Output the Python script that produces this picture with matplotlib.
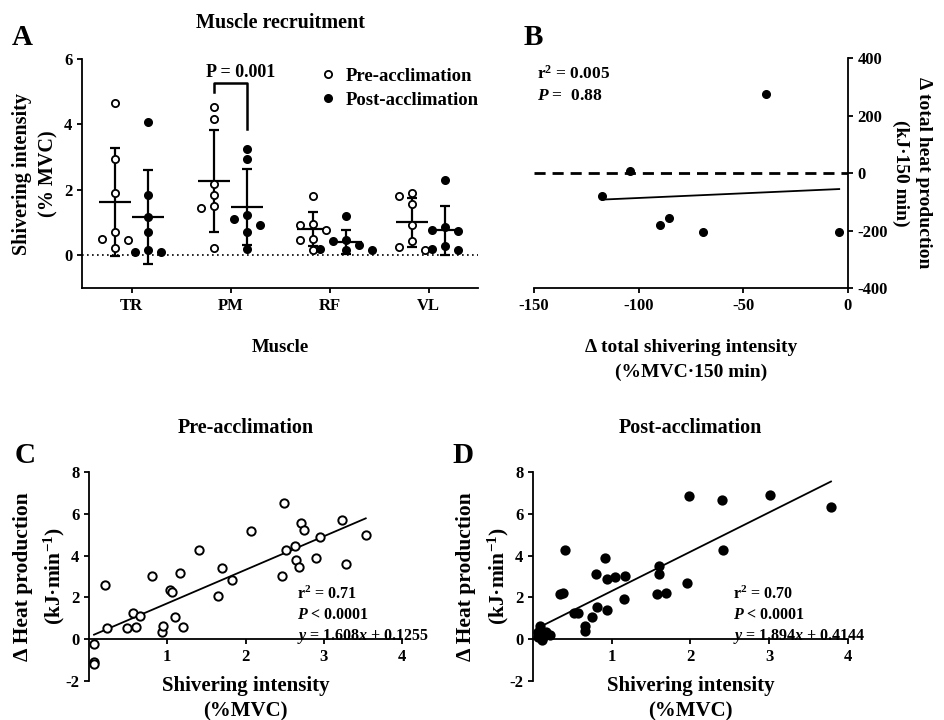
import numpy as np
import matplotlib
matplotlib.use('Agg')
import matplotlib.pyplot as plt
from matplotlib.lines import Line2D

plt.rcParams['font.family'] = ['Liberation Serif', 'DejaVu Serif']
plt.rcParams['font.weight'] = 'bold'
plt.rcParams['axes.labelweight'] = 'bold'
plt.rcParams['axes.titleweight'] = 'bold'
plt.rcParams['axes.unicode_minus'] = False
plt.rcParams['mathtext.fontset'] = 'custom'
plt.rcParams['mathtext.rm'] = 'Liberation Serif:bold'
plt.rcParams['mathtext.it'] = 'Liberation Serif:italic:bold'
plt.rcParams['mathtext.bf'] = 'Liberation Serif:bold'
plt.rcParams['axes.linewidth'] = 1.3
plt.rcParams['xtick.major.width'] = 1.3
plt.rcParams['ytick.major.width'] = 1.3
plt.rcParams['xtick.labelsize'] = 12
plt.rcParams['ytick.labelsize'] = 12

# ---- data: panel A (shivering intensity, % MVC) ----
muscles = ['TR', 'PM', 'RF', 'VL']
pre_vals = [
    [4.67, 2.94, 1.90, 0.70, 0.50, 0.46, 0.21],
    [4.53, 4.18, 2.19, 1.84, 1.50, 1.46, 0.21],
    [1.82, 0.97, 0.92, 0.78, 0.50, 0.48, 0.15],
    [1.90, 1.82, 1.58, 0.94, 0.43, 0.25, 0.15],
]
post_vals = [
    [4.07, 1.84, 1.16, 0.70, 0.17, 0.09, 0.09],
    [3.26, 2.94, 1.22, 1.11, 0.94, 0.70, 0.19],
    [1.19, 0.48, 0.44, 0.31, 0.19, 0.15, 0.15],
    [2.31, 0.86, 0.78, 0.75, 0.27, 0.19, 0.15],
]

# ---- panel B ----
b_shiv = [-39.3, -104.0, -117.5, -89.8, -85.5, -69.4, -4.2]
b_heat = [276, 8, -81, -181, -158, -206, -204]

# ---- panel C (pre-acclimation) ----
c_shiv = [0.064, 0.064, 0.064, 0.20, 0.234, 0.486, 0.567, 0.605, 0.647, 0.80,
          0.937, 0.95, 1.035, 1.06, 1.095, 1.159, 1.206, 1.40, 1.649, 1.70,
          1.827, 2.07, 2.466, 2.488, 2.518, 2.633, 2.645, 2.688, 2.709, 2.748,
          2.897, 2.956, 3.233, 3.280, 3.536]
c_heat = [-0.24, -1.08, -1.21, 2.61, 0.53, 0.54, 1.26, 0.57, 1.12, 3.01,
          0.32, 0.64, 2.37, 2.25, 1.08, 3.17, 0.59, 4.25, 2.07, 3.41,
          2.82, 5.16, 3.03, 6.53, 4.29, 4.48, 3.79, 3.46, 5.58, 5.20,
          3.90, 4.89, 5.71, 3.59, 5.00]

# ---- panel D (post-acclimation) ----
d_shiv = [0.085, 0.063, 0.127, 0.114, 0.17, 0.21, 0.10, 0.14, 0.06, 0.347,
          0.381, 0.41, 0.516, 0.571, 0.656, 0.656, 0.749, 0.796, 0.817, 0.91,
          0.94, 0.94, 1.045, 1.156, 1.173, 1.575, 1.596, 1.604, 1.689, 1.956,
          1.985, 2.40, 2.408, 3.01, 3.784]
d_heat = [0.65, 0.35, 0.11, -0.05, 0.32, 0.18, 0.25, 0.20, 0.12, 2.14,
          2.23, 4.26, 1.26, 1.26, 0.62, 0.40, 1.05, 3.14, 1.55, 3.89,
          2.87, 1.39, 2.98, 1.94, 3.04, 2.14, 3.14, 3.51, 2.23, 2.71,
          6.87, 6.65, 4.29, 6.88, 6.31]


def swarm(vals, thr=0.3):
    # simple column layout so close values sit side by side
    placed = []
    lanes = []
    for v in vals:
        for lane in (0, -1, 1, -2, 2):
            if all(abs(v - pv) >= thr for pv, pl in placed if pl == lane):
                break
        placed.append((v, lane))
        lanes.append(lane)
    return np.array(lanes)


fig = plt.figure(figsize=(9.44, 7.2), dpi=100)

# =================== A ===================
axA = fig.add_axes([0.0869, 0.6, 0.4195, 0.318])
shift = 0.165
lane_w = 0.13
for i, m in enumerate(muscles):
    for vals, off, face in ((pre_vals[i], -shift, 'white'), (post_vals[i], shift, 'black')):
        v = np.array(vals)
        xc = i + off
        mu = v.mean()
        sd = v.std(ddof=1)
        axA.errorbar(xc, mu, yerr=sd, fmt='none', ecolor='black', elinewidth=1.6,
                     capsize=3.5, capthick=1.6, zorder=2)
        axA.hlines(mu, xc - 0.16, xc + 0.16, color='black', lw=1.6, zorder=2)
        xs = xc + swarm(v) * lane_w
        axA.plot(xs, v, 'o', ms=5.2, mfc=face, mec='black', mew=1.3, zorder=3,
                 clip_on=False)

axA.axhline(0, color='black', lw=1.2, ls=(0, (1, 2)), zorder=1)
axA.set_xlim(-0.5, 3.5)
axA.set_ylim(-1, 6)
axA.set_xticks(range(4))
axA.set_xticklabels(muscles)
axA.set_yticks([0, 2, 4, 6])
axA.spines['top'].set_visible(False)
axA.spines['right'].set_visible(False)
axA.set_ylabel('Shivering intensity\n(% MVC)', fontsize=14.5, labelpad=4, linespacing=1.45)
axA.set_xlabel('Muscle', fontsize=13.5, labelpad=18)
axA.set_title('Muscle recruitment', fontsize=14.5, pad=22)

# significance bracket PM pre vs post
xl, xr = 1 - shift, 1 + shift
axA.plot([xl, xl, xr, xr], [5.0, 5.28, 5.28, 3.86], color='black', lw=1.8)
axA.text(1.1, 5.6, 'P = 0.001', ha='center', va='center', fontsize=13)

handles = [Line2D([], [], ls='none', marker='o', ms=5.2, mfc='white', mec='black', mew=1.3),
           Line2D([], [], ls='none', marker='o', ms=5.2, mfc='black', mec='black', mew=1.3)]
axA.legend(handles, ['Pre-acclimation', 'Post-acclimation'], loc='upper left',
           bbox_to_anchor=(0.55, 1.035), frameon=False, fontsize=13.5,
           handletextpad=0.35, labelspacing=0.35, handlelength=1.2)
fig.text(0.024, 0.948, 'A', fontsize=21, ha='center', va='center')

# =================== B ===================
axB = fig.add_axes([0.5657, 0.6, 0.3326, 0.3194])
axB.plot(b_shiv, b_heat, 'o', ms=5.5, color='black', clip_on=False, zorder=3)
slope, icpt = np.polyfit(b_shiv, b_heat, 1)
xf = np.array([min(b_shiv), max(b_shiv)])
axB.plot(xf, slope * xf + icpt, color='black', lw=1.3)
axB.axhline(0, color='black', lw=2, ls=(0, (4, 2.5)))
axB.set_xlim(-150, 0)
axB.set_ylim(-400, 400)
axB.set_xticks([-150, -100, -50, 0])
axB.set_yticks([-400, -200, 0, 200, 400])
axB.spines['top'].set_visible(False)
axB.spines['left'].set_visible(False)
axB.yaxis.tick_right()
axB.yaxis.set_label_position('right')
axB.set_ylabel('\u0394 total heat production\n(kJ\u00b7150 min)', fontsize=14,
               rotation=270, va='bottom', labelpad=3, linespacing=1.4)
axB.set_xlabel('\u0394 total shivering intensity\n(%MVC\u00b7150 min)', fontsize=14,
               labelpad=18, linespacing=1.6)
axB.text(0.01, 0.93, 'r$^2$ = 0.005', transform=axB.transAxes, fontsize=12.5, va='center')
axB.text(0.01, 0.835, '$P$ =  0.88', transform=axB.transAxes, fontsize=12.5, va='center')
fig.text(0.565, 0.948, 'B', fontsize=21, ha='center', va='center')


# =================== C / D ===================
def scatter_panel(ax, xv, yv, face, title, stats, stats_x):
    ax.plot(xv, yv, 'o', ms=6, mfc=face, mec='black', mew=1.4, clip_on=False, zorder=3)
    k, b = np.polyfit(xv, yv, 1)
    xf = np.array([min(xv), max(xv)])
    ax.plot(xf, k * xf + b, color='black', lw=1.3, zorder=2)
    ax.set_xlim(0, 4)
    ax.set_ylim(-2, 8)
    ax.set_xticks([1, 2, 3, 4])
    ax.set_yticks([-2, 0, 2, 4, 6, 8])
    ax.spines['top'].set_visible(False)
    ax.spines['right'].set_visible(False)
    ax.spines['bottom'].set_position(('data', 0))
    ax.set_title(title, fontsize=14.5, pad=28)
    ax.set_xlabel('Shivering intensity\n(%MVC)', fontsize=15, linespacing=1.35)
    ax.xaxis.set_label_coords(0.5, 0.025)
    ax.set_ylabel('\u0394 Heat production\n(kJ\u00b7min$^{-1}$)', fontsize=15.5, linespacing=1.5)
    ax.yaxis.set_label_coords(-0.07, 0.5)
    ax.text(stats_x, 0.455, stats, transform=ax.transAxes, fontsize=11.5, va='top',
            linespacing=1.3)


axC = fig.add_axes([0.0943, 0.0542, 0.3316, 0.2903])
scatter_panel(axC, c_shiv, c_heat, 'white', 'Pre-acclimation',
              'r$^2$ = 0.71\n$P$ < 0.0001\n$y$ = 1.608$x$ + 0.1255', 0.665)
fig.text(0.027, 0.368, 'C', fontsize=21, ha='center', va='center')

axD = fig.add_axes([0.5646, 0.0542, 0.3337, 0.2903])
scatter_panel(axD, d_shiv, d_heat, 'black', 'Post-acclimation',
              'r$^2$ = 0.70\n$P$ < 0.0001\n$y$ = 1.894$x$ + 0.4144', 0.635)
fig.text(0.49, 0.368, 'D', fontsize=21, ha='center', va='center')

plt.savefig('out.png', dpi=100)
plt.close()
